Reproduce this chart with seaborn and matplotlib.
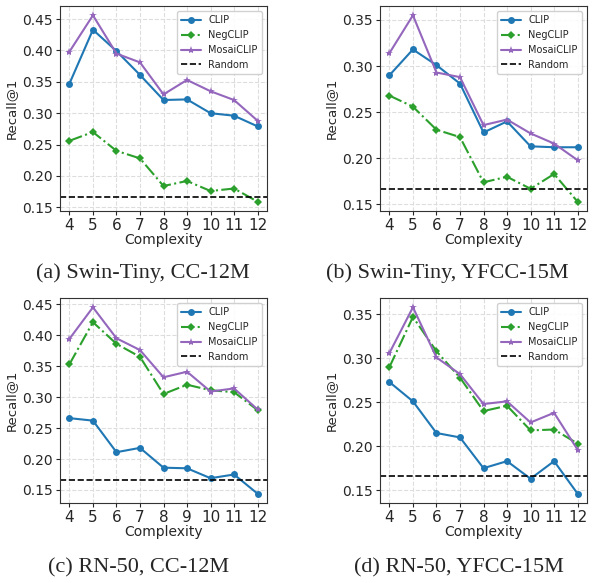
import numpy as np
import pandas as pd
import seaborn as sns
import matplotlib
matplotlib.use("Agg")
import matplotlib.pyplot as plt

# hodnoty
slozitost = [4, 5, 6, 7, 8, 9, 10, 11, 12]
nahoda = 1 / 6

# (a) Swin-Tiny, CC-12M
a_clip = [0.347, 0.433, 0.399, 0.361, 0.321, 0.322, 0.300, 0.296, 0.279]
a_neg = [0.256, 0.270, 0.240, 0.228, 0.184, 0.192, 0.176, 0.180, 0.159]
a_mosai = [0.398, 0.456, 0.395, 0.381, 0.330, 0.353, 0.335, 0.321, 0.288]

# (b) Swin-Tiny, YFCC-15M
b_clip = [0.290, 0.318, 0.301, 0.281, 0.228, 0.240, 0.213, 0.212, 0.212]
b_neg = [0.268, 0.256, 0.231, 0.223, 0.174, 0.180, 0.167, 0.183, 0.153]
b_mosai = [0.314, 0.355, 0.293, 0.288, 0.236, 0.242, 0.227, 0.216, 0.198]

# (c) RN-50, CC-12M
c_clip = [0.266, 0.262, 0.211, 0.218, 0.186, 0.185, 0.169, 0.175, 0.144]
c_neg = [0.353, 0.421, 0.386, 0.365, 0.305, 0.320, 0.311, 0.308, 0.279]
c_mosai = [0.394, 0.445, 0.395, 0.376, 0.332, 0.341, 0.309, 0.314, 0.280]

# (d) RN-50, YFCC-15M
d_clip = [0.273, 0.251, 0.215, 0.210, 0.175, 0.183, 0.163, 0.183, 0.146]
d_neg = [0.290, 0.347, 0.308, 0.278, 0.240, 0.246, 0.218, 0.219, 0.203]
d_mosai = [0.306, 0.358, 0.301, 0.282, 0.248, 0.251, 0.227, 0.238, 0.196]

popisky = ["(a) Swin-Tiny, CC-12M", "(b) Swin-Tiny, YFCC-15M",
           "(c) RN-50, CC-12M", "(d) RN-50, YFCC-15M"]
panely = [(a_clip, a_neg, a_mosai), (b_clip, b_neg, b_mosai),
          (c_clip, c_neg, c_mosai), (d_clip, d_neg, d_mosai)]

sns.set_style("whitegrid", {"grid.linestyle": "--", "grid.color": "#dddddd",
                            "axes.edgecolor": "#333333",
                            "xtick.bottom": True, "ytick.left": True})
plt.rcParams['font.family'] = ['DejaVu Sans']

fig = plt.figure(figsize=(5.94, 5.83), dpi=100)

# pozice os v pixelech: (levy, horni)
pozice = [(60, 6), (380, 6), (60, 298), (380, 298)]
stredy_popisku = [(143, 273), (447, 273), (139, 568), (459, 568)]
W, H = 594, 583

for i, (clip, neg, mosai) in enumerate(panely):
    x0, y0 = pozice[i]
    ax = fig.add_axes([x0 / W, (H - y0 - 205) / H, 207 / W, 205 / H])
    sns.lineplot(x=slozitost, y=clip, ax=ax, color="#1f77b4", marker="o",
                 markersize=5, markeredgewidth=0, linewidth=1.5, label="CLIP")
    sns.lineplot(x=slozitost, y=neg, ax=ax, color="#2ca02c", marker="D",
                 markersize=4.5, markeredgewidth=0, linewidth=1.5,
                 linestyle="-.", label="NegCLIP")
    sns.lineplot(x=slozitost, y=mosai, ax=ax, color="#9467bd", marker="*",
                 markersize=6, markeredgewidth=0, linewidth=1.5, label="MosaiCLIP")
    ax.axhline(nahoda, color="black", linestyle="--", linewidth=1.2, label="Random")
    ax.set_xticks(slozitost)
    ax.tick_params(axis="x", labelsize=11, length=3, pad=2)
    ax.tick_params(axis="y", labelsize=10, length=3, pad=2)
    ax.set_xlabel("Complexity", fontsize=10, labelpad=0)
    ax.set_ylabel("Recall@1", fontsize=9.5, labelpad=3)
    for s in ax.spines.values():
        s.set_linewidth(0.8)
    ax.legend(loc="upper right", fontsize=7, handlelength=2.0,
              borderpad=0.45, labelspacing=0.5, framealpha=0.9)
    cx, cy = stredy_popisku[i]
    fig.text(cx / W, 1 - cy / H, popisky[i], ha="center", va="center",
             fontsize=16, family="Liberation Serif")

fig.savefig("out.png", dpi=100)
